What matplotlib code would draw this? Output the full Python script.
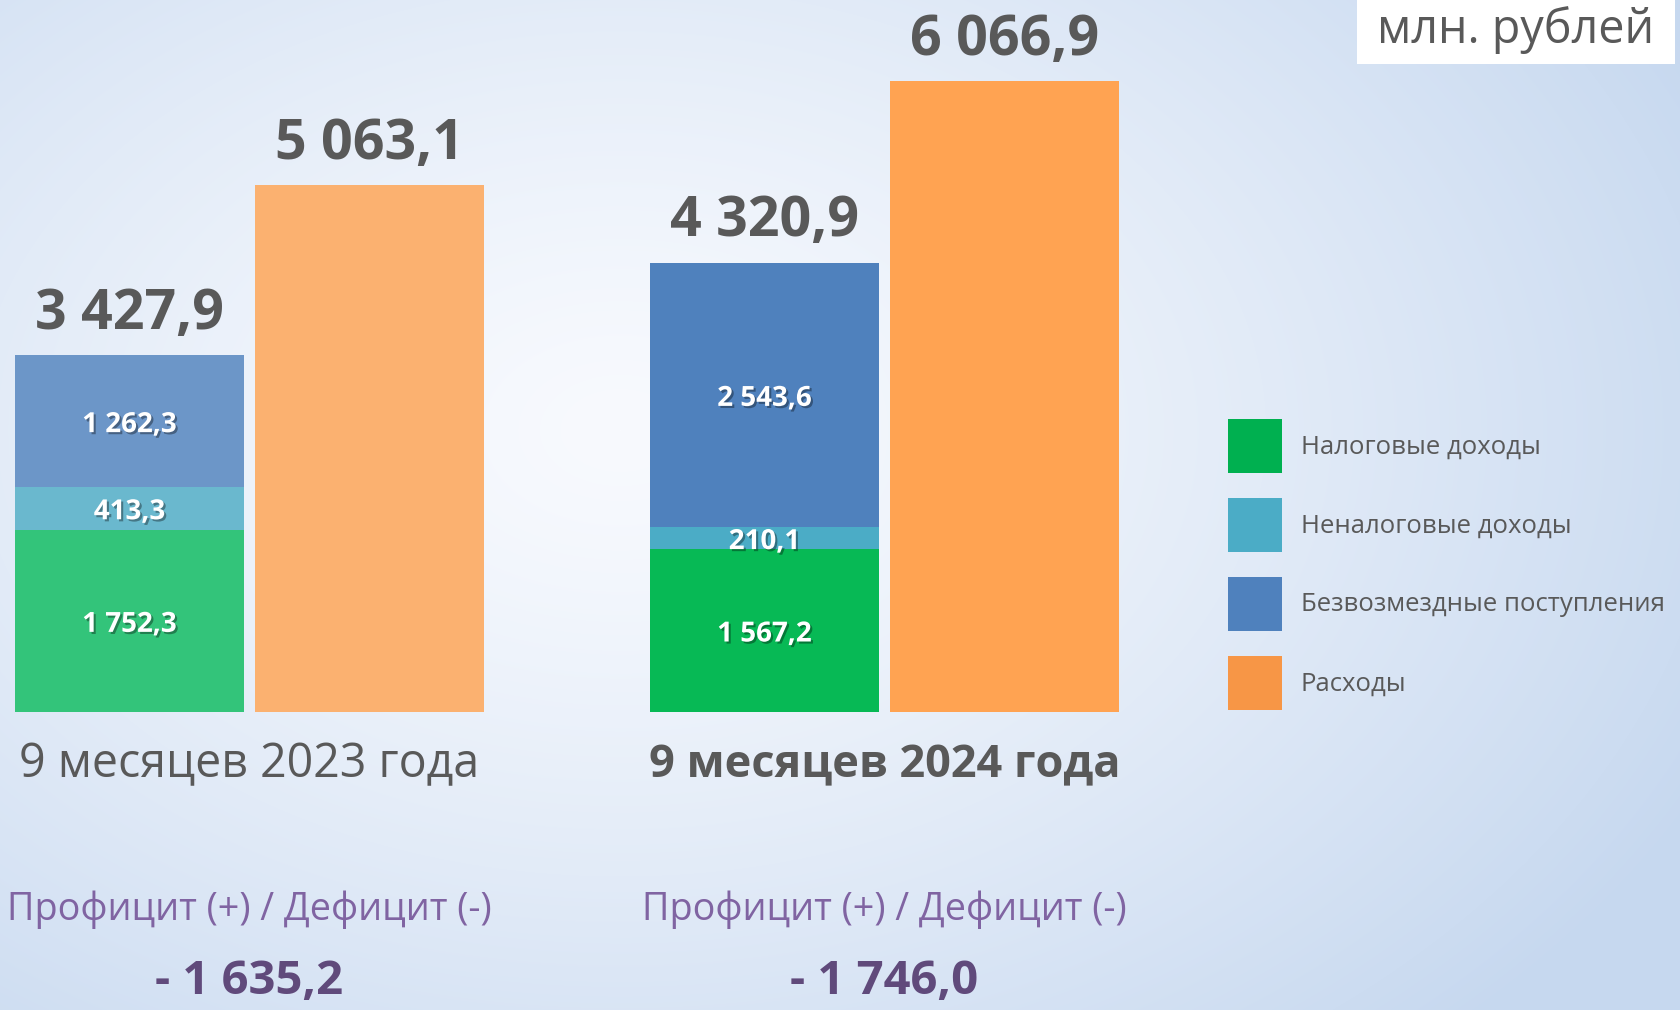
import matplotlib
matplotlib.use('Agg')
import matplotlib.pyplot as plt
import matplotlib.patheffects as pe
from matplotlib.patches import Patch, Rectangle
import numpy as np

plt.rcParams['font.family'] = ['Open Sans', 'DejaVu Sans']

# данные, млн. рублей
periods = ['9 месяцев 2023 года', '9 месяцев 2024 года']
tax = [1752.3, 1567.2]        # Налоговые доходы
nontax = [413.3, 210.1]       # Неналоговые доходы
grants = [1262.3, 2543.6]     # Безвозмездные поступления
expenses = [5063.1, 6066.9]   # Расходы
incomes = [3427.9, 4320.9]
balance = [-1635.2, -1746.0]

legend_labels = ['Налоговые доходы', 'Неналоговые доходы',
                 'Безвозмездные поступления', 'Расходы']
legend_colors = ['#00B050', '#4BACC6', '#4F81BD', '#F79646']

# цвета столбцов (2023 - бледнее)
c_tax = ['#33C47A', '#07B955']
c_nontax = ['#6AB8CE', '#4BACC6']
c_grants = ['#6C96C8', '#4F81BD']
c_exp = ['#FBB170', '#FFA352']

grey = '#595959'


def fmt(v):
    s = f'{abs(v):,.1f}'.replace(',', ' ').replace('.', ',')
    return ('- ' + s) if v < 0 else s


W, H = 1681, 1010
fig = plt.figure(figsize=(W / 100, H / 100), dpi=100)

# фон: радиальный градиент
bg = fig.add_axes([0, 0, 1, 1], zorder=-10)
yy, xx = np.mgrid[0:H, 0:W]
r = np.sqrt(((xx - 620) / 1100) ** 2 + ((yy - 430) / 760) ** 2)
t = np.clip(r, 0, 1.1) ** 1.3
c0 = np.array([0xF8, 0xFA, 0xFE]) / 255
c1 = np.array([0xCC, 0xDC, 0xF1]) / 255
img = c0 + (c1 - c0) * t[..., None]
bg.imshow(np.clip(img, 0, 1), aspect='auto', extent=(0, W, H, 0))
bg.axis('off')

ax = fig.add_axes([0, 1 - 712 / H, 1, 712 / H])
ax.patch.set_alpha(0)
ax.set_xlim(-249.5 / 635, (W - 249.5) / 635)
ax.set_ylim(0, 712 / 0.104)
ax.axis('off')

x = np.arange(len(periods))
w = 0.362
off = 0.189
xi = x - off
xe = x + off

ax.bar(xi, tax, w, color=c_tax)
ax.bar(xi, nontax, w, bottom=tax, color=c_nontax)
b2 = np.array(tax) + np.array(nontax)
ax.bar(xi, grants, w, bottom=b2, color=c_grants)
ax.bar(xe, expenses, w, color=c_exp)

shadow = [pe.withSimplePatchShadow(offset=(1.5, -1.5), shadow_rgbFace='black', alpha=0.35)]
for i in range(len(periods)):
    # подписи сегментов
    ax.text(xi[i], tax[i] / 2, fmt(tax[i]), ha='center', va='center_baseline',
            color='white', fontsize=20, fontweight='bold', path_effects=shadow)
    ax.text(xi[i], tax[i] + nontax[i] / 2, fmt(nontax[i]), ha='center', va='center_baseline',
            color='white', fontsize=20, fontweight='bold', path_effects=shadow)
    ax.text(xi[i], b2[i] + grants[i] / 2, fmt(grants[i]), ha='center', va='center_baseline',
            color='white', fontsize=20, fontweight='bold', path_effects=shadow)
    # итоги
    ax.annotate(fmt(incomes[i]), (xi[i], incomes[i]), xytext=(0, 19), textcoords='offset points',
                ha='center', va='baseline', color=grey, fontsize=40, fontweight='bold')
    ax.annotate(fmt(expenses[i]), (xe[i], expenses[i]), xytext=(0, 19), textcoords='offset points',
                ha='center', va='baseline', color=grey, fontsize=40, fontweight='bold')
    # подписи периодов
    ax.annotate(periods[i], (x[i], 0), xytext=(0, -47), textcoords='offset points',
                ha='center', va='baseline', color=grey,
                fontsize=32.5 if i == 1 else 33.5,
                fontweight='bold' if i == 1 else 'normal', annotation_clip=False)
    ax.annotate('Профицит (+) / Дефицит (-)', (x[i], 0), xytext=(0, -150), textcoords='offset points',
                ha='center', va='baseline', color='#8064A2', fontsize=27.2, annotation_clip=False)
    ax.annotate(fmt(balance[i]), (x[i], 0), xytext=(0, -203), textcoords='offset points',
                ha='center', va='baseline', color='#604A7B', fontsize=34, fontweight='bold',
                annotation_clip=False)

# единицы измерения
fig.patches.append(Rectangle((1357 / W, 1 - 64 / H), 318 / W, 64 / H, transform=fig.transFigure,
                             facecolor='white', edgecolor='none', zorder=5))
fig.text(1516 / W, 1 - 30 / H, 'млн. рублей', ha='center', va='center', color=grey,
         fontsize=33.7, zorder=6)

handles = [Patch(facecolor=c, edgecolor='none') for c in legend_colors]
fig.legend(handles, legend_labels, loc='upper left', bbox_to_anchor=(1228 / W, 1 - 419 / H),
           frameon=False, borderpad=0, borderaxespad=0, handlelength=2.1, handleheight=2.855,
           labelspacing=0.97, handletextpad=0.74, prop={'size': 18.5}, labelcolor=grey)

fig.savefig('out.png', dpi=100)
